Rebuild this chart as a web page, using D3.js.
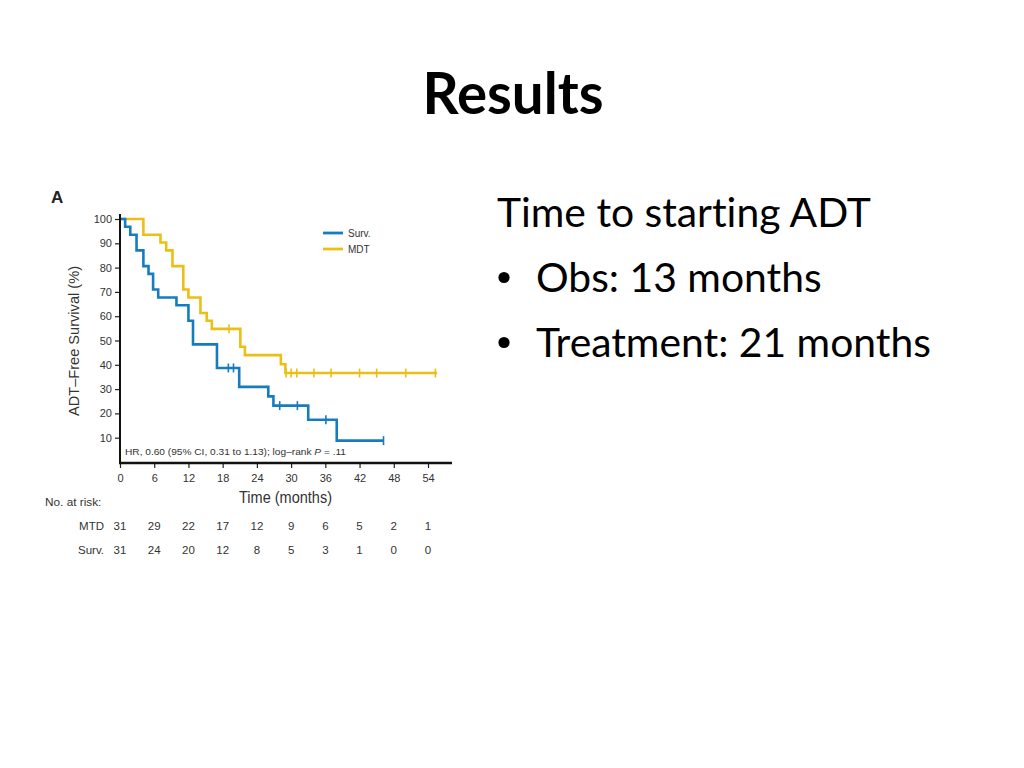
<!DOCTYPE html>
<html>
<head>
<meta charset="utf-8">
<script src="https://cdn.jsdelivr.net/npm/d3@7"></script>
<style>
  html, body { margin: 0; padding: 0; background: #fff; }
  svg { display: block; }
  text { font-variant-ligatures: none; font-feature-settings: "liga" 0, "clig" 0; }
</style>
</head>
<body>
<svg id="chart" width="1024" height="768"></svg>
<script>
// ---------- data ----------
const timeTicks = [0, 6, 12, 18, 24, 30, 36, 42, 48, 54];
const survTicks = [10, 20, 30, 40, 50, 60, 70, 80, 90, 100];

// Kaplan-Meier steps [month, % ADT-free]
const survSteps = [[0,100],[0.9,96.8],[1.8,93.5],[2.9,87.1],[4.1,80.6],[5.0,77.4],[5.8,71.0],[6.7,67.7],
  [9.9,64.5],[12.0,58.1],[12.8,48.4],[17.0,38.7],[20.9,30.9],[26.0,27.0],[26.9,23.2],[33.0,17.4],[38.0,8.8],[46.2,8.8]];
const survCensor = [19.0, 19.9, 28.0, 31.1, 36.1, 46.2];

const mdtSteps = [[0,100],[4.1,93.5],[7.1,90.3],[8.1,87.1],[9.2,80.6],[11.1,71.0],[12.0,67.7],[14.1,61.3],
  [15.2,58.1],[16.1,54.8],[21.1,47.4],[21.9,44.0],[28.2,40.2],[29.0,36.6],[55.6,36.6]];
const mdtCensor = [19.1, 29.1, 30.0, 31.0, 34.0, 37.0, 42.0, 45.0, 50.1, 55.3];

const mtdAtRisk = [31, 29, 22, 17, 12, 9, 6, 5, 2, 1];
const survAtRisk = [31, 24, 20, 12, 8, 5, 3, 1, 0, 0];

const seriesNames = ["Surv.", "MDT"];
const riskRowNames = ["MTD", "Surv."];
const bullets = ["Obs: 13 months", "Treatment: 21 months"];

// ---------- setup ----------
const BLUE = "#167cc0", YELLOW = "#ecbf14";
const svg = d3.select("#chart");
const chartFont = "'Liberation Sans', Arial, Helvetica, sans-serif";
const slideFont = "Lato, 'Open Sans', sans-serif";

function fitText(sel, width) {
  const node = sel.node();
  const fs = parseFloat(sel.attr("font-size"));
  const w = node.getComputedTextLength();
  sel.attr("font-size", (fs * width / w).toFixed(2));
  return fs * width / w;
}

// Title
const title = svg.append("text").attr("x", 513).attr("y", 114).attr("text-anchor", "middle")
  .attr("font-family", slideFont).attr("font-weight", 700).attr("font-size", 56).attr("fill", "#000")
  .text("Results");
fitText(title, 181);

// Right side text
const head = svg.append("text").attr("x", 497).attr("y", 227)
  .attr("font-family", slideFont).attr("font-size", 40).attr("fill", "#000")
  .text("Time to starting ADT");
const fs = fitText(head, 374);
bullets.forEach((b, i) => {
  const yy = 292 + i * 65;
  svg.append("circle").attr("cx", 504).attr("cy", yy - 14.5).attr("r", 5.6).attr("fill", "#000");
  svg.append("text").attr("x", 536).attr("y", yy).attr("font-family", slideFont)
    .attr("font-size", fs).text(b);
});

// ---------- chart ----------
const x = d3.scaleLinear().domain([0, 54]).range([120, 428]);
const y = d3.scaleLinear().domain([0, 100]).range([462, 219]);

const g = svg.append("g").attr("font-family", chartFont);

g.append("text").attr("x", 51).attr("y", 203).attr("font-size", 17).attr("font-weight", 700)
  .attr("fill", "#222").text("A");

// curves
const line = d3.line().x(d => x(d[0])).y(d => y(d[1])).curve(d3.curveStepAfter);
function levelAt(steps, t) {
  let v = steps[0][1];
  for (const s of steps) if (s[0] <= t) v = s[1];
  return v;
}
[[mdtSteps, mdtCensor, YELLOW], [survSteps, survCensor, BLUE]].forEach(([steps, cens, col]) => {
  g.append("path").datum(steps).attr("d", line).attr("fill", "none")
    .attr("stroke", col).attr("stroke-width", 2.6);
  g.selectAll(null).data(cens).enter().append("line")
    .attr("x1", d => x(d)).attr("x2", d => x(d))
    .attr("y1", d => y(levelAt(steps, d)) - 4.5).attr("y2", d => y(levelAt(steps, d)) + 4.5)
    .attr("stroke", col).attr("stroke-width", 1.6);
});

// axes
const yAxis = g.append("g").attr("transform", "translate(120,0)")
  .call(d3.axisLeft(y).tickValues(survTicks).tickSize(5).tickPadding(3));
yAxis.select(".domain").remove();
yAxis.selectAll(".tick line").attr("stroke", "#222").attr("stroke-width", 1.2);
yAxis.selectAll("text").attr("font-size", 11).attr("fill", "#333").attr("font-family", chartFont);
g.append("line").attr("x1", 120).attr("x2", 120).attr("y1", 214).attr("y2", 463.5)
  .attr("stroke", "#111").attr("stroke-width", 2);

const xAxis = g.append("g").attr("transform", "translate(0,463)")
  .call(d3.axisBottom(x).tickValues(timeTicks).tickSize(5).tickPadding(6));
xAxis.select(".domain").remove();
xAxis.selectAll(".tick line").attr("stroke", "#222").attr("stroke-width", 1.2);
xAxis.selectAll("text").attr("font-size", 11).attr("fill", "#333").attr("font-family", chartFont);
g.append("line").attr("x1", 119).attr("x2", 452).attr("y1", 463).attr("y2", 463)
  .attr("stroke", "#111").attr("stroke-width", 2.4);

// axis titles
const yt = g.append("text").attr("transform", "translate(79,341) rotate(-90)")
  .attr("text-anchor", "middle").attr("font-size", 14.5).attr("fill", "#333")
  .text("ADT\u2013Free Survival (%)");
yt.attr("textLength", 150).attr("lengthAdjust", "spacingAndGlyphs");
g.append("text").attr("x", 285.5).attr("y", 503).attr("text-anchor", "middle")
  .attr("font-size", 16).attr("fill", "#333").attr("textLength", 93)
  .attr("lengthAdjust", "spacingAndGlyphs").text("Time (months)");

// HR annotation
const hr = g.append("text").attr("x", 125).attr("y", 455).attr("font-size", 9.8).attr("fill", "#333");
hr.append("tspan").text("HR, 0.60 (95% CI, 0.31 to 1.13); log\u2013rank ");
hr.append("tspan").attr("font-style", "italic").text("P");
hr.append("tspan").text(" = .11");
hr.attr("textLength", 221).attr("lengthAdjust", "spacingAndGlyphs");

// legend
[BLUE, YELLOW].forEach((col, i) => {
  const ly = 233 + i * 16;
  g.append("line").attr("x1", 323).attr("x2", 343).attr("y1", ly).attr("y2", ly)
    .attr("stroke", col).attr("stroke-width", 2.8);
  g.append("text").attr("x", 348).attr("y", ly + 3.5).attr("font-size", 10).attr("fill", "#333")
    .text(seriesNames[i]);
});

// at-risk table
g.append("text").attr("x", 45).attr("y", 506).attr("font-size", 11.8).attr("fill", "#333").text("No. at risk:");
[mtdAtRisk, survAtRisk].forEach((vals, i) => {
  const ry = 530 + i * 24;
  g.append("text").attr("x", 104).attr("y", ry).attr("text-anchor", "end")
    .attr("font-size", 11.5).attr("fill", "#333").text(riskRowNames[i]);
  g.selectAll(null).data(vals).enter().append("text")
    .attr("x", (d, j) => x(timeTicks[j])).attr("y", ry).attr("text-anchor", "middle")
    .attr("font-size", 11.5).attr("fill", "#333").text(d => d);
});
</script>
</body>
</html>
